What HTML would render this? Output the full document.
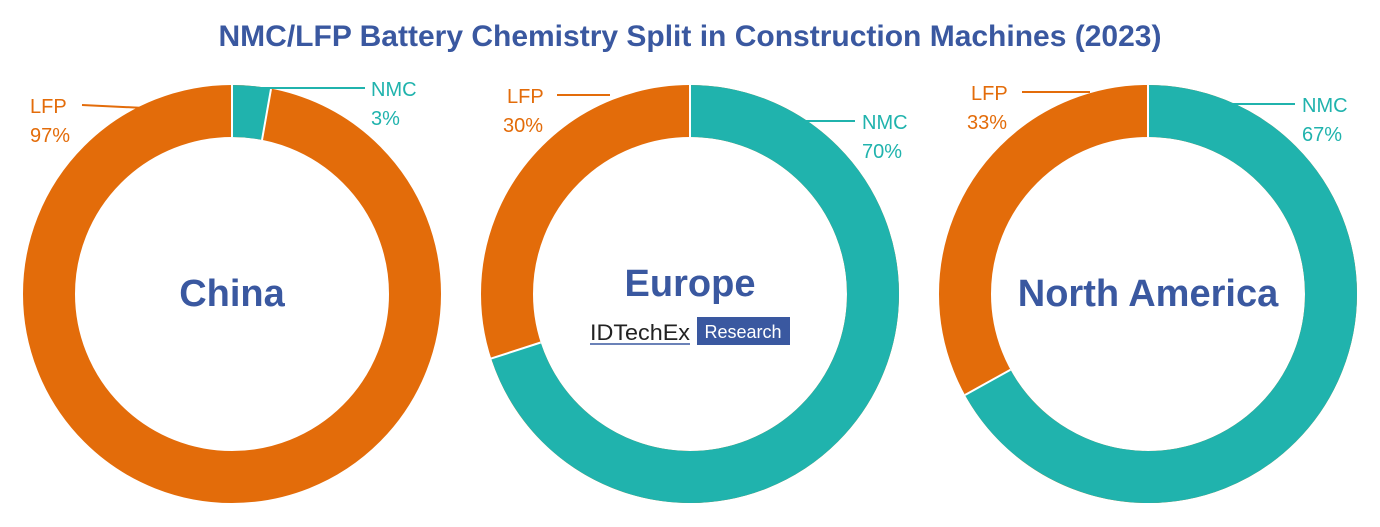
<!DOCTYPE html>
<html><head><style>body{margin:0;background:#fff}svg{display:block}text{font-family:"Liberation Sans",sans-serif}</style></head><body>
<svg width="1380" height="527" viewBox="0 0 1380 527">
<text x="690" y="46" text-anchor="middle" font-size="30" font-weight="bold" fill="#3a58a0">NMC/LFP Battery Chemistry Split in Construction Machines (2023)</text>
<g fill="none" stroke-width="52">
<g transform="translate(232,294) rotate(-90)">
<circle r="183" stroke="#e36c0a"/>
<circle r="183" stroke="#20b3ad" stroke-dasharray="34.5 2000"/>
</g>
<g transform="translate(690,294) rotate(-90)">
<circle r="183" stroke="#e36c0a"/>
<circle r="183" stroke="#20b3ad" stroke-dasharray="805 2000"/>
</g>
<g transform="translate(1148,294) rotate(-90)">
<circle r="183" stroke="#e36c0a"/>
<circle r="183" stroke="#20b3ad" stroke-dasharray="770.4 2000"/>
</g>
</g>
<g stroke="#fff" stroke-width="2">
<line x1="232" y1="85" x2="232" y2="137"/>
<line x1="271" y1="89" x2="262" y2="140"/>
<line x1="690" y1="85" x2="690" y2="137"/>
<line x1="491" y1="358.6" x2="540.7" y2="342.5"/>
<line x1="1148" y1="85" x2="1148" y2="137"/>
<line x1="965" y1="395" x2="1010.5" y2="369.7"/>
</g>
<g stroke-width="2">
<line x1="82" y1="105" x2="145" y2="108" stroke="#e36c0a"/>
<line x1="240" y1="88" x2="365" y2="88" stroke="#20b3ad"/>
<line x1="557" y1="95" x2="610" y2="95" stroke="#e36c0a"/>
<line x1="805" y1="121" x2="855" y2="121" stroke="#20b3ad"/>
<line x1="1022" y1="92" x2="1090" y2="92" stroke="#e36c0a"/>
<line x1="1225" y1="104" x2="1295" y2="104" stroke="#20b3ad"/>
</g>
<g font-size="20">
<text x="30" y="113" fill="#e36c0a">LFP</text><text x="30" y="142" fill="#e36c0a">97%</text>
<text x="371" y="96" fill="#20b3ad">NMC</text><text x="371" y="125" fill="#20b3ad">3%</text>
<text x="507" y="103" fill="#e36c0a">LFP</text><text x="503" y="132" fill="#e36c0a">30%</text>
<text x="862" y="129" fill="#20b3ad">NMC</text><text x="862" y="158" fill="#20b3ad">70%</text>
<text x="971" y="100" fill="#e36c0a">LFP</text><text x="967" y="129" fill="#e36c0a">33%</text>
<text x="1302" y="112" fill="#20b3ad">NMC</text><text x="1302" y="141" fill="#20b3ad">67%</text>
</g>
<g font-size="38" font-weight="bold" fill="#3a58a0" text-anchor="middle">
<text x="232" y="306">China</text>
<text x="690" y="296">Europe</text>
<text x="1148" y="306">North America</text>
</g>
<text x="590" y="340" font-size="22" fill="#222" textLength="100" lengthAdjust="spacingAndGlyphs">IDTechEx</text>
<line x1="590" y1="344" x2="690" y2="344" stroke="#3a58a0" stroke-width="1.5"/>
<rect x="697" y="317" width="93" height="28" fill="#3a58a0"/>
<text x="743" y="338" font-size="18" fill="#fff" text-anchor="middle">Research</text>
</svg>
</body></html>
